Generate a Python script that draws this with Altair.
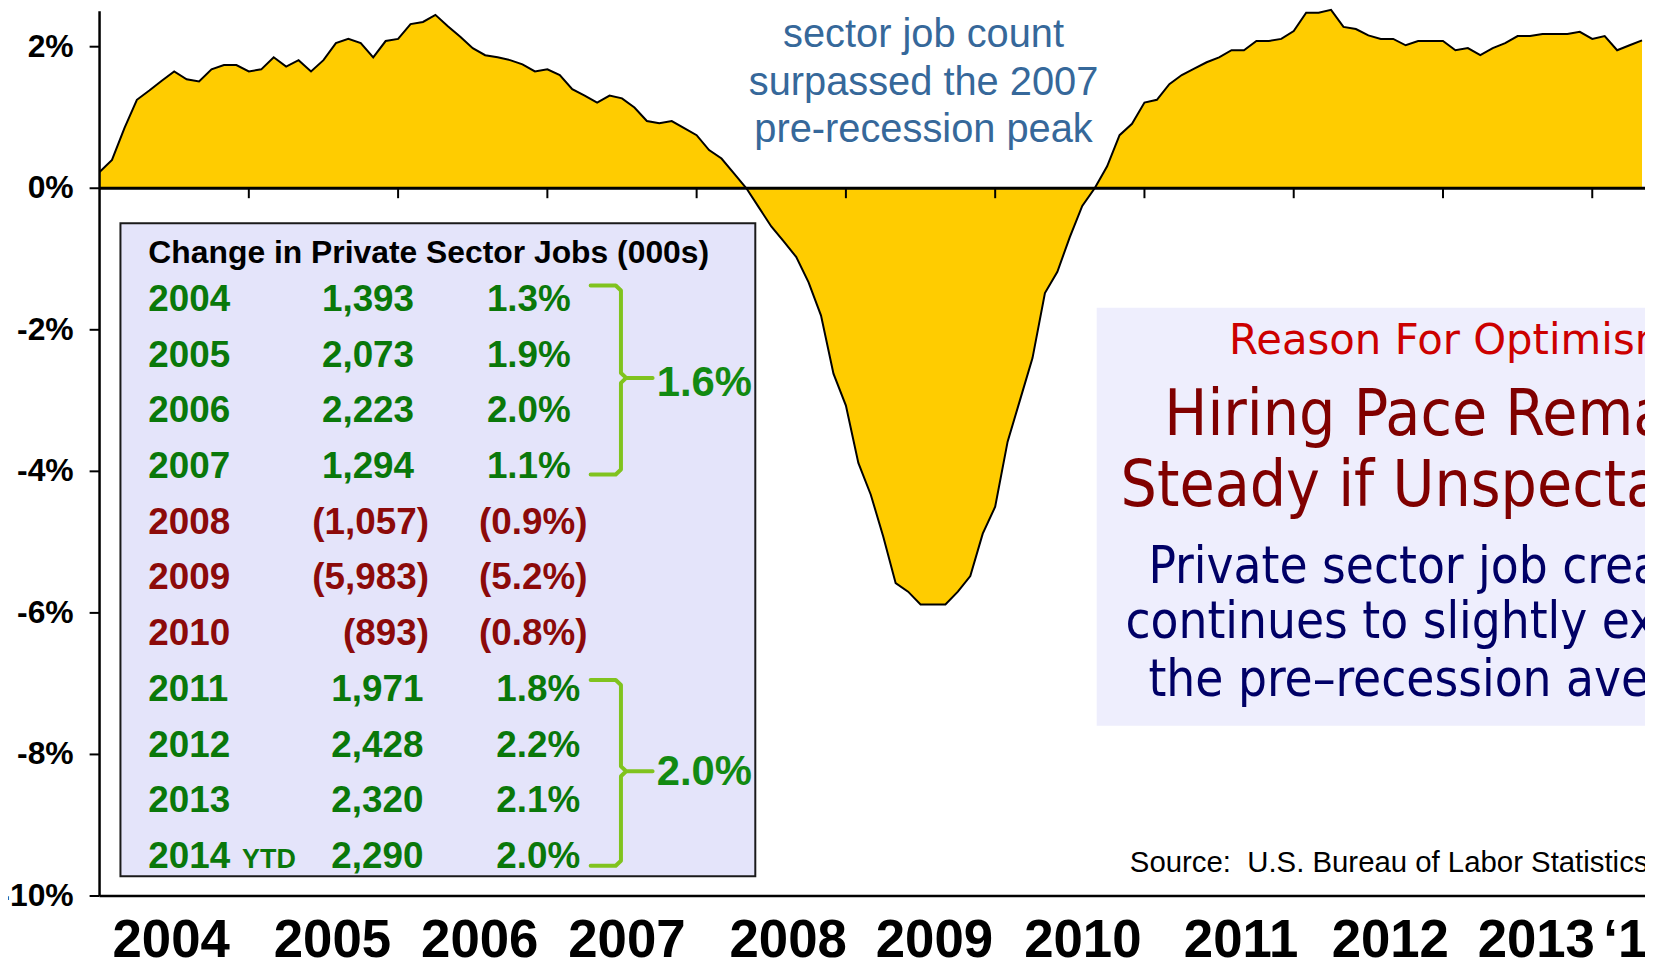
import altair as alt
import pandas as pd

# ---------------- data (year-over-year % change, private sector jobs, monthly) ----------------
yoy_2004 = [0.23, 0.40, 0.85, 1.25, 1.38, 1.52, 1.65, 1.54, 1.51, 1.68, 1.74, 1.74]
yoy_2005 = [1.65, 1.68, 1.85, 1.72, 1.81, 1.65, 1.81, 2.05, 2.11, 2.05, 1.85, 2.08]
yoy_2006 = [2.11, 2.32, 2.35, 2.45, 2.29, 2.14, 1.98, 1.88, 1.85, 1.81, 1.75, 1.65]
yoy_2007 = [1.68, 1.60, 1.40, 1.31, 1.21, 1.31, 1.27, 1.14, 0.95, 0.92, 0.95, 0.85]
yoy_2008 = [0.75, 0.54, 0.42, 0.21, 0.00, -0.27, -0.54, -0.75, -0.97, -1.33, -1.80, -2.62]
yoy_2009 = [-3.07, -3.88, -4.33, -4.92, -5.58, -5.70, -5.88, -5.88, -5.88, -5.70, -5.48, -4.88]
yoy_2010 = [-4.50, -3.58, -2.99, -2.40, -1.48, -1.18, -0.69, -0.25, 0.00, 0.31, 0.75, 0.91]
yoy_2011 = [1.21, 1.25, 1.47, 1.60, 1.69, 1.78, 1.85, 1.95, 1.95, 2.08, 2.08, 2.11]
yoy_2012 = [2.22, 2.48, 2.48, 2.52, 2.28, 2.25, 2.16, 2.11, 2.11, 2.02, 2.08, 2.08]
yoy_2013 = [2.08, 1.95, 1.98, 1.88, 1.98, 2.05, 2.15, 2.15, 2.18, 2.18, 2.18, 2.21]
yoy_2014 = [2.11, 2.15, 1.95, 2.02, 2.09]

axis_tick_years = [2005, 2006, 2007, 2008, 2009, 2010, 2011, 2012, 2013, 2014]
y_tick_values = [-10, -8, -6, -4, -2, 0, 2]
y_tick_labels = ["-10%", "-8%", "-6%", "-4%", "-2%", "0%", "2%"]
year_labels = ["2004", "2005", "2006", "2007", "2008", "2009", "2010",
               "2011", "2012", "2013", "\u201814"]

table_years = ["2004", "2005", "2006", "2007", "2008", "2009", "2010",
               "2011", "2012", "2013", "2014"]
table_jobs = ["1,393", "2,073", "2,223", "1,294", "(1,057)", "(5,983)", "(893)",
              "1,971", "2,428", "2,320", "2,290"]
table_pcts = ["1.3%", "1.9%", "2.0%", "1.1%", "(0.9%)", "(5.2%)", "(0.8%)",
              "1.8%", "2.2%", "2.1%", "2.0%"]
table_group = ["pre", "pre", "pre", "pre", "loss", "loss", "loss",
               "post", "post", "post", "post"]
avg_labels = ["1.6%", "2.0%"]

note_lines = ["In May, the private", "sector job count",
              "surpassed the 2007", "pre-recession peak"]
box_kicker = "Reason For Optimism"
box_title = ["Hiring Pace Remains", "Steady if Unspectacular"]
box_sub = ["Private sector job creation", "continues to slightly exceed",
           "the pre\u2013recession average"]
source_text = "Source:\u00a0 U.S. Bureau of Labor Statistics"
table_header = "Change in Private Sector Jobs (000s)"

# ---------------- layout ----------------
W, H = 1553, 889
PX_PER_YEAR = 150.0
PX_PER_PCT = H / 12.5
X0 = 2004.0
X1 = 2004.0 + W / PX_PER_YEAR
XS = alt.Scale(domain=[X0, X1], nice=False, zero=False)
YS = alt.Scale(domain=[-10, 2.5], nice=False, zero=False)
TICK_X = 10 / PX_PER_YEAR      # y-axis tick length, in years
TICK_Y = 10 / PX_PER_PCT       # x-axis tick length, in percent

ARIAL = "Liberation Sans, Arial, sans-serif"
VERD = "DejaVu Sans, Verdana, sans-serif"
TAH = "DejaVu Sans Condensed, Tahoma, sans-serif"

GREEN = "#0A780A"
RED = "#8C0A0A"
group_color = {"pre": GREEN, "loss": RED, "post": GREEN}
jobs_right = {"pre": 2006.107, "loss": 2006.207, "post": 2006.17}
pct_right = {"pre": 2007.157, "loss": 2007.269, "post": 2007.22}
ROW0, ROW_STEP = -1.732, 0.7874

series = (yoy_2004 + yoy_2005 + yoy_2006 + yoy_2007 + yoy_2008 + yoy_2009 +
          yoy_2010 + yoy_2011 + yoy_2012 + yoy_2013 + yoy_2014)
ts = pd.DataFrame({"x": [2004 + i / 12.0 for i in range(len(series))], "v": series})


def X(field="x"):
    return alt.X(f"{field}:Q", scale=XS, axis=None)


def Y(field="y"):
    return alt.Y(f"{field}:Q", scale=YS, axis=None)


def text_layer(df, **kw):
    kw.setdefault("baseline", "alphabetic")
    enc = dict(x=X(), y=Y(), text="t:N")
    if "c" in df.columns:
        enc["color"] = alt.Color("c:N", scale=None)
    return alt.Chart(df).mark_text(**kw).encode(**enc)


layers = []

# right-hand message box
rbox = pd.DataFrame({"x": [2010.68], "x2": [2014.8], "y": [-1.69], "y2": [-7.595]})
layers.append(alt.Chart(rbox).mark_rect(fill="#EEEEFD", clip=True).encode(
    x=X(), x2="x2:Q", y=Y(), y2="y2:Q"))

# table box
tbox = pd.DataFrame({"x": [2004.14], "x2": [2008.393], "y": [-0.495], "y2": [-9.72]})
layers.append(alt.Chart(tbox).mark_rect(fill="#E4E4FA", stroke="#1A1A1A", strokeWidth=2).encode(
    x=X(), x2="x2:Q", y=Y(), y2="y2:Q"))

# area + outline
layers.append(alt.Chart(ts).mark_area(color="#FFCC00").encode(x=X(), y=Y("v"), y2=alt.datum(0)))
layers.append(alt.Chart(ts).mark_line(color="black", strokeWidth=2).encode(x=X(), y=Y("v")))

# ---- axes drawn through the scales ----
# zero line (carries the year ticks) and bottom line at -10%
layers.append(alt.Chart(pd.DataFrame({"y": [0]})).mark_rule(color="black", strokeWidth=3)
              .encode(y=Y()))
layers.append(alt.Chart(pd.DataFrame({"y": [-10]})).mark_rule(color="black", strokeWidth=2.5)
              .encode(y=Y()))
# vertical axis line
layers.append(alt.Chart(pd.DataFrame({"x": [X0]})).mark_rule(color="black", strokeWidth=2.5)
              .encode(x=X()))
# year ticks hanging below the zero line
xt = pd.DataFrame({"x": axis_tick_years, "y": [0] * len(axis_tick_years),
                   "y2": [-TICK_Y] * len(axis_tick_years)})
layers.append(alt.Chart(xt).mark_rule(color="black", strokeWidth=2).encode(
    x=X(), y=Y(), y2="y2:Q"))
# y ticks and labels
yt = pd.DataFrame({"x": [X0 - TICK_X] * len(y_tick_values), "x2": [X0] * len(y_tick_values),
                   "y": y_tick_values})
layers.append(alt.Chart(yt).mark_rule(color="black", strokeWidth=2).encode(
    x=X(), x2="x2:Q", y=Y()))
layers.append(text_layer(pd.DataFrame({"x": [X0 - 26 / PX_PER_YEAR] * len(y_tick_values),
                                       "y": y_tick_values, "t": y_tick_labels}),
                         align="right", baseline="middle", font=ARIAL, fontWeight="bold",
                         fontSize=32, color="black"))

# year labels under the axis
yl_x = [2004.48, 2005.56, 2006.547, 2007.533, 2008.613, 2009.593, 2010.587,
        2011.647, 2012.647, 2013.625, 2014.32]
layers.append(text_layer(pd.DataFrame({"x": yl_x, "y": [-10.858] * len(year_labels),
                                       "t": year_labels}),
                         align="center", font=ARIAL, fontWeight="bold", fontSize=53,
                         color="black"))

# top annotation
layers.append(text_layer(pd.DataFrame({"x": [2009.52] * 4, "y": [2.662, 1.994, 1.319, 0.658],
                                       "t": note_lines}),
                         align="center", font=ARIAL, fontSize=40, color="#36689A"))

# table header
layers.append(text_layer(pd.DataFrame({"x": [2004.327], "y": [-1.050], "t": [table_header]}),
                         align="left", font=ARIAL, fontWeight="bold", fontSize=32, color="black"))

rows_y = [ROW0 - ROW_STEP * i for i in range(len(table_years))]
cols = [group_color[g] for g in table_group]
layers.append(text_layer(pd.DataFrame({"x": [2004.327] * len(table_years), "y": rows_y,
                                       "t": table_years, "c": cols}),
                         align="left", font=ARIAL, fontWeight="bold", fontSize=37))
layers.append(text_layer(pd.DataFrame({"x": [2004.955], "y": [rows_y[-1]], "t": ["YTD"]}),
                         align="left", font=ARIAL, fontWeight="bold", fontSize=27, color=GREEN))
layers.append(text_layer(pd.DataFrame({"x": [jobs_right[g] for g in table_group], "y": rows_y,
                                       "t": table_jobs, "c": cols}),
                         align="right", font=ARIAL, fontWeight="bold", fontSize=37))
layers.append(text_layer(pd.DataFrame({"x": [pct_right[g] for g in table_group], "y": rows_y,
                                       "t": table_pcts, "c": cols}),
                         align="right", font=ARIAL, fontWeight="bold", fontSize=37))


# brackets
def bracket(top, mid, bot, gid):
    xl, xv, xt_ = 2007.29, 2007.493, 2007.705
    pts = [(xl, top), (xv - 0.035, top), (xv, top - 0.07), (xv, mid + 0.07),
           (xv + 0.035, mid), (xt_, mid), (xv + 0.035, mid), (xv, mid - 0.07),
           (xv, bot + 0.07), (xv - 0.035, bot), (xl, bot)]
    return pd.DataFrame({"x": [p[0] for p in pts], "y": [p[1] for p in pts],
                         "o": list(range(len(pts))), "g": [gid] * len(pts)})


br = pd.concat([bracket(-1.375, -2.68, -4.044, "a"), bracket(-6.949, -8.238, -9.573, "b")])
layers.append(alt.Chart(br).mark_line(color="#80C31E", strokeWidth=4, strokeJoin="round",
                                      strokeCap="round").encode(
    x=X(), y=Y(), order="o:Q", detail="g:N"))
layers.append(text_layer(pd.DataFrame({"x": [2007.733, 2007.733], "y": [-2.942, -8.432],
                                       "t": avg_labels}),
                         align="left", font=ARIAL, fontWeight="bold", fontSize=42,
                         color="#128A12"))

# right box text
layers.append(text_layer(pd.DataFrame({"x": [2011.567], "y": [-2.337], "t": [box_kicker]}),
                         align="left", font=VERD, fontSize=42, color="#CC0000"))
layers.append(text_layer(pd.DataFrame({"x": [2011.133, 2010.84], "y": [-3.49, -4.488],
                                       "t": box_title}),
                         align="left", font=TAH, fontSize=64, color="#800000"))
layers.append(text_layer(pd.DataFrame({"x": [2011.027, 2010.873, 2011.027],
                                       "y": [-5.571, -6.358, -7.173], "t": box_sub}),
                         align="left", font=TAH, fontSize=51, color="#000066"))
layers.append(text_layer(pd.DataFrame({"x": [2010.902], "y": [-9.663], "t": [source_text]}),
                         align="left", font=ARIAL, fontSize=29.5, color="black"))

chart = alt.layer(*layers).properties(
    width=W, height=H,
    padding={"left": 92, "top": 1, "right": 0, "bottom": 63},
    autosize=alt.AutoSizeParams(type="none"),
    background="white",
).configure_view(stroke=None)

chart.save("out.html", embed_options={"renderer": "svg", "actions": False})
